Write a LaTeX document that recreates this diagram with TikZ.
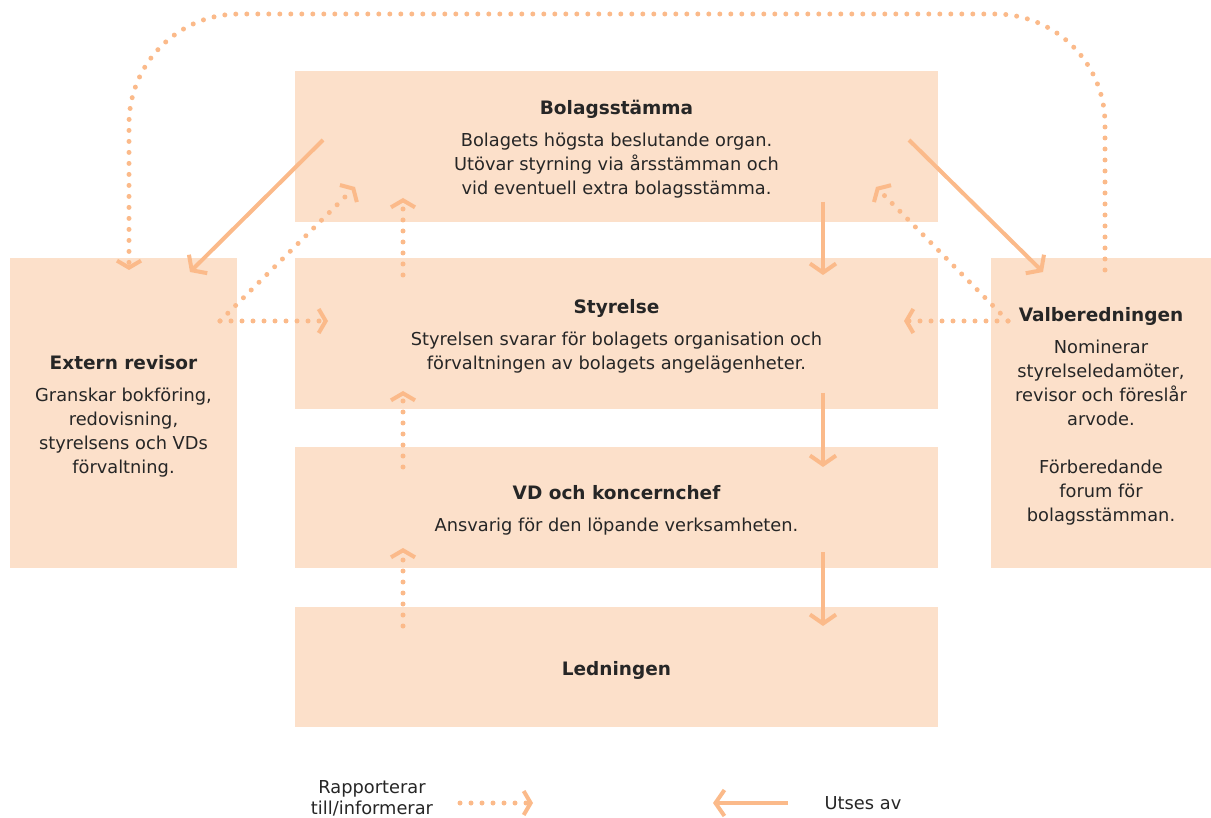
\documentclass[tikz,border=0pt]{standalone}
\usepackage{fontspec}
\setmainfont{DejaVu Sans}
\usetikzlibrary{arrows.meta}
\definecolor{boxfill}{HTML}{FCE0CA}
\definecolor{pil}{HTML}{FBBA8A}
\definecolor{ink}{HTML}{262626}
\newcommand{\rubrik}[1]{{\fontsize{18.5}{24}\selectfont\bfseries\rule{0pt}{20pt}#1}}

\begin{document}
\begin{tikzpicture}[x=1pt, y=-1pt,
        org_box/.style={rectangle, fill=boxfill, inner sep=0pt, align=center, text=ink, font=\fontsize{17.8}{24}\selectfont},
        legend_text/.style={align=center, text=ink, font=\fontsize{17.8}{21}\selectfont},
        utses/.style={draw=pil, line width=4pt, -{Straight Barb[length=9pt, width=26pt, line width=4pt]}},
        rapport/.style={draw=pil, line width=5pt, line cap=round, dash pattern=on 0pt off 11pt, -{Straight Barb[length=7pt, width=24pt, line width=4pt]}}
    ]
        \useasboundingbox (0,0) rectangle (1211,818);

        % Rutor
        \node[org_box, minimum width=643pt, minimum height=151pt] (bolag) at (616.5,146.5)
            {\rubrik{Bolagsstämma}\\[8pt] Bolagets högsta beslutande organ.\\ Utövar styrning via årsstämman och\\ vid eventuell extra bolagsstämma.};
        \node[org_box, minimum width=643pt, minimum height=151pt] (styrelse) at (616.5,333.5)
            {\rubrik{Styrelse}\\[8pt] Styrelsen svarar för bolagets organisation och\\ förvaltningen av bolagets angelägenheter.};
        \node[org_box, minimum width=643pt, minimum height=121pt] (vd) at (616.5,507.5)
            {\rubrik{VD och koncernchef}\\[8pt] Ansvarig för den löpande verksamheten.};
        \node[org_box, minimum width=643pt, minimum height=120pt] (ledning) at (616.5,667)
            {\rubrik{Ledningen}};
        \node[org_box, minimum width=227pt, minimum height=310pt] (revisor) at (123.5,413)
            {\rubrik{Extern revisor}\\[8pt] Granskar bokföring,\\ redovisning,\\ styrelsens och VDs\\ förvaltning.};
        \node[org_box, minimum width=220pt, minimum height=310pt] (valb) at (1101,413)
            {\rubrik{Valberedningen}\\[8pt] Nominerar\\ styrelseledamöter,\\ revisor och föreslår\\ arvode.\\[24pt] Förberedande\\ forum för\\ bolagsstämman.};

        % Ändpunkter
        \coordinate (bs_l) at (323,140);
        \coordinate (bs_r) at (909,140);
        \coordinate (rev_in) at (190,272);
        \coordinate (valb_in) at (1043,272);
        \coordinate (rev_ut) at (220,321);
        \coordinate (valb_ut) at (1008,321);
        \coordinate (bs_in_l) at (355,187);
        \coordinate (bs_in_r) at (876,187);
        \coordinate (st_in_l) at (328,321);
        \coordinate (st_in_r) at (904,321);
        \coordinate (loop_start) at (1105,270);
        \coordinate (loop_end) at (129,270);

        % Utses av
        \draw[utses] (bs_l) -- (rev_in);
        \draw[utses] (bs_r) -- (valb_in);
        \draw[utses] (823,202) -- (823,275);
        \draw[utses] (823,393) -- (823,467);
        \draw[utses] (823,552) -- (823,626);

        % Rapporterar
        \draw[rapport] (403,275) -- (403,198);
        \draw[rapport] (403,467) -- (403,391);
        \draw[rapport] (403,626) -- (403,548);
        \draw[rapport] (rev_ut) -- (st_in_l);
        \draw[rapport] (rev_ut) -- (bs_in_l);
        \draw[rapport] (valb_ut) -- (st_in_r);
        \draw[rapport] (valb_ut) -- (bs_in_r);
        \draw[rapport, rounded corners=110pt] (loop_start) -- (1105,14) -- (129,14) -- (loop_end);

        % Teckenförklaring
        \node[legend_text] (leg_rapport) at (372,798) {Rapporterar\\ till/informerar};
        \node[legend_text, anchor=base] (leg_utses) at (863,809) {Utses av};
        \coordinate (leg_r_a) at (460,803);
        \coordinate (leg_r_b) at (533,803);
        \coordinate (leg_u_a) at (788,803);
        \coordinate (leg_u_b) at (713,803);
        \draw[rapport] (leg_r_a) -- (leg_r_b);
        \draw[utses] (leg_u_a) -- (leg_u_b);
\end{tikzpicture}
\end{document}
